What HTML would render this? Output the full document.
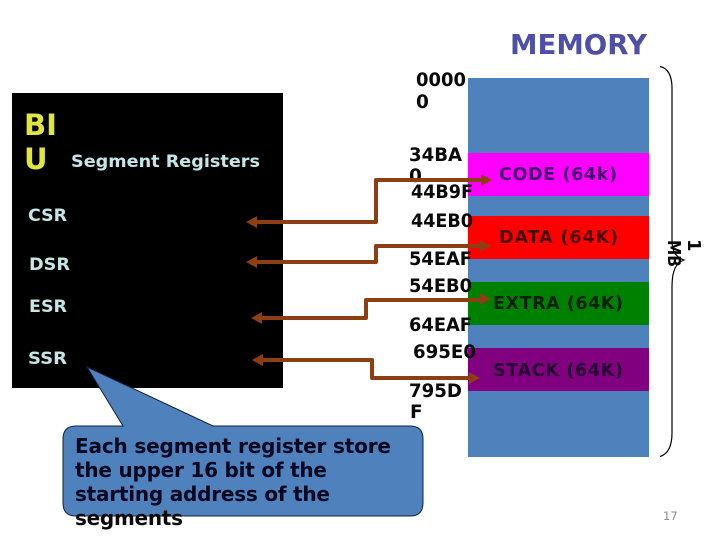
<!DOCTYPE html>
<html><head><meta charset="utf-8"><style>
html,body{margin:0;padding:0;background:#fff;width:720px;height:540px;overflow:hidden}
svg{display:block}
text{font-family:"DejaVu Sans",sans-serif;font-weight:bold}
.a{font-size:18.5px;fill:#0a0a0a}
.r{font-size:16.5px;fill:#c4e6e6}
.m{font-size:17.5px}
.c{font-size:20px;fill:#03071f}
</style></head><body>
<svg width="720" height="540" viewBox="0 0 720 540" xmlns="http://www.w3.org/2000/svg">
<rect x="12" y="93" width="271" height="295" fill="#000"/>
<rect x="468" y="78" width="181" height="379" fill="#4f81bd"/>
<rect x="468" y="153" width="181" height="43" fill="#ff00ff"/>
<rect x="468" y="216" width="181" height="43" fill="#ff0000"/>
<rect x="468" y="282" width="181" height="43" fill="#008000"/>
<rect x="468" y="348" width="181" height="43" fill="#800080"/>

<text x="510" y="54" font-size="27.5" fill="#4f4fa6" textLength="137" lengthAdjust="spacingAndGlyphs">MEMORY</text>
<text x="24" y="135" font-size="29" fill="#e0e63c" textLength="33" lengthAdjust="spacingAndGlyphs">BI</text>
<text x="24" y="169" font-size="29" fill="#e0e63c">U</text>
<text class="r" x="71" y="167" textLength="189" lengthAdjust="spacingAndGlyphs">Segment Registers</text>
<text class="r" x="28" y="221" textLength="39" lengthAdjust="spacingAndGlyphs">CSR</text>
<text class="r" x="29" y="270" textLength="41" lengthAdjust="spacingAndGlyphs">DSR</text>
<text class="r" x="29" y="312" textLength="38" lengthAdjust="spacingAndGlyphs">ESR</text>
<text class="r" x="28" y="364" textLength="39" lengthAdjust="spacingAndGlyphs">SSR</text>

<text class="a" x="416" y="86" textLength="50" lengthAdjust="spacingAndGlyphs">0000</text>
<text class="a" x="416" y="108">0</text>
<text class="a" x="409" y="161" textLength="53" lengthAdjust="spacingAndGlyphs">34BA</text>
<text class="a" x="409" y="182">0</text>
<text class="a" x="411" y="198" textLength="62" lengthAdjust="spacingAndGlyphs">44B9F</text>
<text class="a" x="411" y="227" textLength="62" lengthAdjust="spacingAndGlyphs">44EB0</text>
<text class="a" x="409" y="265" textLength="63" lengthAdjust="spacingAndGlyphs">54EAF</text>
<text class="a" x="409" y="292" textLength="63" lengthAdjust="spacingAndGlyphs">54EB0</text>
<text class="a" x="409" y="331" textLength="63" lengthAdjust="spacingAndGlyphs">64EAF</text>
<text class="a" x="413" y="358" textLength="63" lengthAdjust="spacingAndGlyphs">695E0</text>
<text class="a" x="409" y="397" textLength="53" lengthAdjust="spacingAndGlyphs">795D</text>
<text class="a" x="410" y="418">F</text>

<text class="m" x="499" y="180" fill="#46006e" textLength="118" lengthAdjust="spacing">CODE (64k)</text>
<text class="m" x="499" y="243" fill="#4a0505" textLength="119" lengthAdjust="spacing">DATA (64K)</text>
<text class="m" x="493" y="309" fill="#04200a" textLength="130" lengthAdjust="spacing">EXTRA (64K)</text>
<text class="m" x="493" y="376" fill="#26002e" textLength="130" lengthAdjust="spacing">STACK (64K)</text>

<g fill="none" stroke="#8b3f12" stroke-width="4" stroke-linejoin="round">
<path d="M254 222H376V180H484"/>
<path d="M254 262H376V246H483"/>
<path d="M259 318H366V300H483"/>
<path d="M260 360H372V378H472"/>
</g>
<g fill="#8b3f12">
<path d="M246 222L257 216V228Z"/>
<path d="M246 262L257 256V268Z"/>
<path d="M251 318L262 312V324Z"/>
<path d="M252 360L263 354V366Z"/>
<path d="M492 180L481 174V186Z"/>
<path d="M491 246L480 240V252Z"/>
<path d="M491 299L480 293V305Z"/>
<path d="M480 378L469 372V384Z"/>
</g>

<path d="M660 66.500C668 68 672 76 672 88V240C672 252 676 257 684 260C676 263 672 270 672 287V433C672 446 668 454 660 456.500" fill="none" stroke="#000" stroke-width="1.200"/>
<text transform="translate(688,239) rotate(90)" font-size="18" fill="#0a0a0a">1</text>
<text transform="translate(668,240) rotate(90)" font-size="18" fill="#0a0a0a" textLength="27" lengthAdjust="spacingAndGlyphs">MB</text>

<path d="M87 367L213 426H410Q423 426 423 439V503Q423 516 410 516H76Q63 516 63 503V439Q63 426 76 426H123Z" fill="#4f81bd" stroke="#0c2340" stroke-width="1"/>
<text class="c" x="75" y="453" textLength="316" lengthAdjust="spacing">Each segment register store</text>
<text class="c" x="75" y="477" textLength="252" lengthAdjust="spacing">the upper 16 bit of the</text>
<text class="c" x="75" y="501" textLength="255" lengthAdjust="spacing">starting address of the</text>
<text class="c" x="75" y="525" textLength="108" lengthAdjust="spacing" style="fill:#0a0a0a">segments</text>

<text x="663" y="520" style="font-family:'DejaVu Sans',sans-serif;font-weight:normal" font-size="11.500" fill="#8b8b8b">17</text>
</svg>
</body></html>
